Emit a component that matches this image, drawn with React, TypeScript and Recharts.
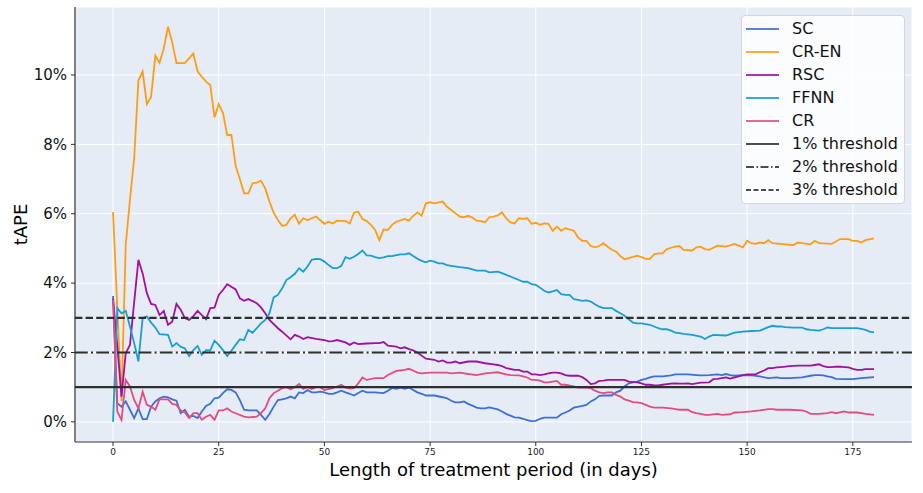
import React from 'react';
import { LineChart, Line, XAxis, YAxis, CartesianGrid, ReferenceLine, Label } from 'recharts';

// tAPE (%) per length of treatment period (days)
const scPoints: [number, number][] = [
  [0, 3.63], [1, 0.54], [2, 0.44], [3, 0.59], [4, 0.35], [5, 0.11], [6, 0.39], [7, 0.08], [8, 0.08], [9, 0.44],
  [10, 0.59], [11, 0.68], [12, 0.73], [13, 0.71], [14, 0.65], [15, 0.61], [16, 0.25], [17, 0.35], [18, 0.15], [19, 0.17],
  [20, 0.11], [21, 0.3], [22, 0.46], [23, 0.52], [24, 0.68], [25, 0.7], [26, 0.83], [27, 0.94], [28, 0.92], [29, 0.85],
  [30, 0.63], [31, 0.35], [32, 0.33], [34, 0.33], [35, 0.2], [36, 0.06], [37, 0.23], [38, 0.44], [39, 0.63], [40, 0.65],
  [41, 0.68], [42, 0.73], [43, 0.68], [44, 0.85], [45, 0.83], [46, 0.92], [47, 0.85], [48, 0.85], [49, 0.87], [50, 0.85],
  [51, 0.81], [52, 0.81], [53, 0.85], [54, 0.9], [55, 0.85], [56, 0.81], [57, 0.76], [58, 0.83], [59, 0.9], [60, 0.85],
  [62, 0.85], [64, 0.83], [65, 0.9], [66, 0.98], [67, 0.95], [68, 0.99], [69, 0.95], [70, 0.99], [71, 0.92], [72, 0.85],
  [73, 0.81], [74, 0.76], [76, 0.76], [78, 0.71], [79, 0.68], [80, 0.61], [81, 0.56], [82, 0.56], [83, 0.59], [84, 0.52],
  [85, 0.47], [86, 0.41], [87, 0.39], [88, 0.39], [89, 0.42], [90, 0.39], [91, 0.36], [92, 0.3], [93, 0.23], [94, 0.18],
  [95, 0.13], [96, 0.12], [97, 0.09], [98, 0.05], [99, 0.02], [100, 0.03], [101, 0.09], [102, 0.12], [105, 0.12], [106, 0.22],
  [107, 0.27], [108, 0.33], [109, 0.41], [111, 0.46], [112, 0.49], [113, 0.59], [114, 0.65], [115, 0.75], [116, 0.76], [118, 0.76],
  [119, 0.85], [120, 0.9], [121, 1.02], [122, 1.11], [123, 1.14], [124, 1.16], [125, 1.21], [126, 1.24], [127, 1.28], [128, 1.31],
  [130, 1.31], [132, 1.34], [133, 1.37], [136, 1.37], [138, 1.35], [139, 1.34], [141, 1.35], [143, 1.37], [144, 1.35], [145, 1.38],
  [146, 1.35], [147, 1.33], [149, 1.35], [151, 1.34], [153, 1.31], [155, 1.26], [157, 1.28], [158, 1.26], [160, 1.26], [163, 1.28],
  [165, 1.33], [166, 1.35], [167, 1.35], [168, 1.34], [169, 1.31], [170, 1.29], [171, 1.24], [173, 1.23], [175, 1.23], [177, 1.26],
  [180, 1.29],
];

const crEnPoints: [number, number][] = [
  [0, 6.05], [1, 3.3], [2, 0.6], [3, 5.1], [4, 6.4], [5, 7.6], [6, 9.84], [7, 10.1], [8, 9.16], [9, 9.37],
  [10, 10.56], [11, 10.35], [12, 10.77], [13, 11.39], [14, 10.94], [15, 10.34], [17, 10.34], [19, 10.62], [20, 10.1], [21, 9.95],
  [22, 9.81], [23, 9.71], [24, 8.78], [25, 9.16], [26, 8.91], [27, 8.27], [28, 8.27], [29, 7.38], [30, 7.0], [31, 6.59],
  [32, 6.59], [33, 6.88], [34, 6.9], [35, 6.95], [36, 6.73], [37, 6.35], [38, 6.03], [39, 5.82], [40, 5.65], [41, 5.68],
  [42, 5.87], [43, 5.97], [44, 5.71], [45, 5.87], [46, 5.82], [48, 5.92], [50, 5.71], [51, 5.77], [52, 5.72], [53, 5.8],
  [55, 5.79], [56, 5.72], [57, 6.03], [58, 6.06], [59, 5.85], [60, 5.79], [61, 5.68], [62, 5.53], [63, 5.24], [64, 5.55],
  [65, 5.53], [66, 5.68], [67, 5.77], [69, 5.85], [70, 5.8], [71, 5.94], [72, 6.04], [73, 5.94], [74, 6.3], [75, 6.33],
  [76, 6.3], [78, 6.35], [79, 6.2], [80, 6.11], [81, 6.01], [82, 5.92], [83, 5.9], [84, 5.94], [85, 5.89], [86, 5.8],
  [87, 5.79], [88, 5.75], [89, 5.9], [90, 5.92], [91, 5.95], [92, 6.04], [93, 5.87], [94, 5.75], [95, 5.72], [96, 5.87],
  [97, 5.85], [98, 5.87], [99, 5.71], [100, 5.74], [101, 5.68], [102, 5.72], [103, 5.71], [104, 5.51], [105, 5.63], [106, 5.51],
  [107, 5.58], [109, 5.51], [110, 5.32], [111, 5.22], [112, 5.22], [113, 5.07], [114, 5.03], [115, 5.07], [116, 5.15], [117, 5.05],
  [118, 4.96], [119, 4.91], [120, 4.78], [121, 4.69], [122, 4.72], [123, 4.76], [124, 4.79], [125, 4.75], [126, 4.7], [127, 4.7],
  [128, 4.83], [129, 4.86], [130, 4.86], [131, 4.98], [132, 5.02], [133, 5.05], [134, 5.07], [135, 4.96], [137, 4.94], [138, 5.03],
  [139, 5.05], [140, 4.98], [141, 4.96], [143, 5.08], [145, 5.05], [147, 5.13], [149, 5.03], [150, 5.22], [151, 5.15], [152, 5.13],
  [153, 5.17], [154, 5.15], [155, 5.24], [156, 5.15], [159, 5.12], [161, 5.1], [162, 5.17], [163, 5.15], [165, 5.12], [166, 5.22],
  [167, 5.15], [170, 5.13], [172, 5.27], [174, 5.27], [175, 5.22], [176, 5.22], [177, 5.17], [178, 5.24], [180, 5.29],
];

const rscPoints: [number, number][] = [
  [0, 3.55], [1, 2.2], [2, 0.73], [3, 1.98], [4, 2.22], [5, 3.45], [6, 4.67], [7, 4.28], [8, 3.71], [9, 3.4],
  [10, 3.37], [11, 3.08], [12, 3.2], [13, 2.8], [14, 2.89], [15, 3.4], [16, 3.23], [17, 2.99], [18, 2.94], [19, 3.05],
  [20, 3.2], [21, 3.08], [22, 2.96], [23, 3.28], [24, 3.29], [25, 3.66], [26, 3.8], [27, 3.97], [29, 3.82], [30, 3.56],
  [31, 3.49], [32, 3.54], [34, 3.42], [35, 3.3], [36, 3.13], [37, 2.94], [39, 2.7], [40, 2.6], [42, 2.38], [43, 2.51],
  [44, 2.46], [45, 2.39], [46, 2.44], [48, 2.39], [50, 2.36], [51, 2.32], [52, 2.33], [53, 2.36], [55, 2.29], [56, 2.22],
  [57, 2.29], [58, 2.24], [60, 2.26], [62, 2.27], [63, 2.27], [64, 2.3], [65, 2.2], [67, 2.17], [68, 2.12], [69, 2.15],
  [70, 2.1], [71, 2.06], [72, 2.0], [73, 1.91], [74, 1.82], [76, 1.79], [77, 1.74], [78, 1.77], [79, 1.71], [80, 1.71],
  [81, 1.74], [82, 1.69], [84, 1.74], [86, 1.74], [88, 1.69], [90, 1.66], [91, 1.64], [92, 1.61], [93, 1.55], [95, 1.5],
  [96, 1.5], [97, 1.45], [98, 1.45], [99, 1.37], [100, 1.37], [101, 1.35], [102, 1.37], [103, 1.4], [104, 1.42], [105, 1.42],
  [106, 1.4], [107, 1.35], [108, 1.33], [110, 1.33], [111, 1.29], [112, 1.21], [113, 1.09], [114, 1.11], [115, 1.18], [116, 1.19],
  [117, 1.21], [118, 1.21], [120, 1.21], [121, 1.21], [122, 1.16], [124, 1.14], [125, 1.11], [126, 1.07], [127, 1.07], [128, 1.05],
  [129, 1.05], [130, 1.07], [132, 1.1], [133, 1.11], [134, 1.1], [135, 1.1], [136, 1.11], [137, 1.09], [138, 1.11], [139, 1.13],
  [141, 1.14], [142, 1.23], [143, 1.24], [145, 1.28], [146, 1.25], [148, 1.31], [149, 1.35], [150, 1.37], [152, 1.37], [153, 1.43],
  [154, 1.48], [155, 1.55], [156, 1.55], [157, 1.57], [158, 1.58], [159, 1.59], [160, 1.61], [162, 1.62], [164, 1.62], [165, 1.62],
  [166, 1.64], [167, 1.66], [168, 1.61], [169, 1.58], [170, 1.58], [171, 1.59], [172, 1.59], [173, 1.58], [174, 1.57], [175, 1.53],
  [176, 1.5], [177, 1.5], [178, 1.52], [180, 1.52],
];

const ffnnPoints: [number, number][] = [
  [0, 0], [1, 3.28], [2, 3.13], [3, 3.2], [4, 2.75], [5, 2.27], [6, 1.74], [7, 2.99], [8, 3.04], [9, 2.86],
  [10, 2.72], [11, 2.53], [13, 2.51], [14, 2.17], [15, 2.27], [16, 2.17], [17, 2.12], [18, 1.9], [19, 2.07], [20, 2.19],
  [21, 1.93], [22, 2.07], [23, 2.06], [24, 2.34], [25, 2.22], [26, 2.07], [27, 1.9], [28, 2.05], [29, 2.22], [30, 2.38],
  [31, 2.36], [32, 2.65], [33, 2.57], [34, 2.7], [35, 2.84], [36, 2.94], [37, 3.13], [38, 3.59], [39, 3.66], [40, 3.85],
  [41, 4.09], [42, 4.17], [43, 4.27], [44, 4.43], [45, 4.33], [46, 4.48], [47, 4.67], [48, 4.7], [49, 4.69], [50, 4.62],
  [51, 4.52], [52, 4.43], [53, 4.43], [54, 4.5], [55, 4.75], [56, 4.7], [57, 4.76], [58, 4.84], [59, 4.94], [60, 4.8],
  [61, 4.79], [62, 4.75], [63, 4.72], [64, 4.74], [65, 4.78], [66, 4.78], [67, 4.81], [68, 4.83], [69, 4.83], [70, 4.86],
  [71, 4.78], [72, 4.7], [73, 4.64], [74, 4.6], [75, 4.65], [76, 4.62], [77, 4.57], [78, 4.57], [79, 4.52], [80, 4.5],
  [82, 4.46], [84, 4.43], [86, 4.36], [88, 4.36], [89, 4.31], [91, 4.33], [92, 4.29], [94, 4.19], [96, 4.09], [97, 4.04],
  [98, 4.04], [99, 3.97], [100, 3.95], [101, 3.87], [102, 3.78], [103, 3.73], [104, 3.76], [105, 3.8], [106, 3.68], [107, 3.66],
  [108, 3.66], [109, 3.54], [110, 3.52], [111, 3.49], [112, 3.5], [113, 3.47], [114, 3.39], [115, 3.32], [116, 3.28], [117, 3.28],
  [118, 3.28], [119, 3.2], [120, 3.13], [121, 3.06], [122, 2.96], [123, 2.86], [124, 2.84], [125, 2.84], [126, 2.82], [127, 2.8],
  [128, 2.75], [129, 2.7], [130, 2.67], [131, 2.67], [132, 2.63], [133, 2.57], [134, 2.56], [135, 2.54], [137, 2.51], [139, 2.46],
  [140, 2.39], [141, 2.46], [142, 2.51], [145, 2.49], [146, 2.53], [147, 2.57], [149, 2.6], [151, 2.62], [153, 2.63], [154, 2.68],
  [155, 2.73], [156, 2.77], [157, 2.75], [158, 2.75], [159, 2.73], [161, 2.72], [163, 2.72], [164, 2.67], [165, 2.65], [167, 2.63],
  [168, 2.67], [169, 2.72], [170, 2.7], [172, 2.7], [174, 2.7], [176, 2.7], [177, 2.68], [178, 2.65], [179, 2.6], [180, 2.58],
];

const crPoints: [number, number][] = [
  [0, 3.52], [1, 0.3], [2, 0.06], [3, 1.21], [4, 1.02], [5, 0.63], [6, 0.39], [7, 0.87], [8, 0.49], [9, 0.44],
  [10, 0.35], [11, 0.65], [12, 0.65], [13, 0.65], [14, 0.52], [15, 0.49], [16, 0.33], [17, 0.27], [18, 0.11], [19, 0.25],
  [20, 0.25], [21, 0.06], [22, 0.15], [23, 0.2], [24, 0.06], [25, 0.33], [26, 0.33], [27, 0.39], [28, 0.3], [29, 0.25],
  [31, 0.15], [32, 0.13], [34, 0.15], [35, 0.25], [36, 0.39], [37, 0.68], [38, 0.83], [39, 0.9], [40, 0.97], [41, 1.0],
  [42, 0.94], [43, 1.0], [44, 1.09], [45, 0.95], [46, 1.0], [47, 0.95], [48, 1.0], [49, 1.0], [50, 0.92], [52, 0.97],
  [54, 1.07], [55, 0.99], [56, 0.96], [57, 0.97], [58, 1.11], [59, 1.28], [60, 1.21], [62, 1.26], [64, 1.26], [65, 1.35],
  [67, 1.47], [69, 1.5], [70, 1.53], [71, 1.48], [72, 1.42], [73, 1.4], [75, 1.42], [77, 1.42], [79, 1.42], [80, 1.4],
  [82, 1.42], [84, 1.38], [86, 1.35], [88, 1.4], [90, 1.42], [91, 1.43], [92, 1.4], [93, 1.37], [94, 1.35], [96, 1.34],
  [97, 1.31], [98, 1.28], [99, 1.21], [100, 1.21], [101, 1.19], [102, 1.14], [103, 1.14], [104, 1.16], [105, 1.18], [106, 1.07],
  [107, 1.07], [109, 1.02], [110, 0.99], [112, 0.99], [113, 0.97], [114, 0.9], [115, 0.85], [116, 0.83], [117, 0.85], [118, 0.85],
  [119, 0.78], [120, 0.73], [121, 0.65], [122, 0.61], [123, 0.57], [124, 0.56], [125, 0.54], [126, 0.49], [127, 0.44], [128, 0.41],
  [130, 0.41], [132, 0.39], [133, 0.37], [134, 0.35], [136, 0.35], [137, 0.28], [138, 0.25], [139, 0.23], [140, 0.2], [141, 0.2],
  [143, 0.23], [144, 0.2], [146, 0.22], [147, 0.27], [149, 0.28], [151, 0.3], [152, 0.32], [153, 0.33], [155, 0.37], [156, 0.37],
  [157, 0.35], [158, 0.35], [160, 0.35], [163, 0.33], [164, 0.3], [165, 0.23], [167, 0.23], [169, 0.25], [170, 0.28], [171, 0.25],
  [173, 0.3], [174, 0.27], [176, 0.27], [177, 0.25], [178, 0.23], [180, 0.2],
];

const xTicks = [0, 25, 50, 75, 100, 125, 150, 175];
const yTicks = [0, 2, 4, 6, 8, 10];
const thresholdLevels = [1, 2, 3];
const thresholdNames = ['1% threshold', '2% threshold', '3% threshold'];
const thresholdDash = [undefined, '12.8 3.2 2 3.2', '7.4 3.2'];

const FONT = '"DejaVu Sans", sans-serif';
const INK = '#2e2e2e';

const toRows = (pts: [number, number][]) => pts.map(([day, value]) => ({ day, value }));

const series = [
  { name: 'SC', color: '#3d6fd6', rows: toRows(scPoints) },
  { name: 'CR-EN', color: '#ff9d12', rows: toRows(crEnPoints) },
  { name: 'RSC', color: '#a0119f', rows: toRows(rscPoints) },
  { name: 'FFNN', color: '#189fcf', rows: toRows(ffnnPoints) },
  { name: 'CR', color: '#e44c80', rows: toRows(crPoints) },
];

const YTitle = (props: any) => {
  const vb = props.viewBox || { x: 0, y: 7, width: 75, height: 435 };
  const cx = vb.x + 27;
  const cy = vb.y + vb.height / 2;
  return (
    <text x={cx} y={cy} transform={`rotate(-90, ${cx}, ${cy})`} textAnchor="middle"
      fontSize={18} fontFamily={FONT} fill="#000">tAPE</text>
  );
};

const XTitle = (props: any) => {
  const vb = props.viewBox || { x: 75, y: 442, width: 837, height: 51 };
  return (
    <text x={vb.x + vb.width / 2} y={vb.y + vb.height - 17} textAnchor="middle"
      fontSize={18} fontFamily={FONT} fill="#000">Length of treatment period (in days)</text>
  );
};

const LegendBox = () => {
  const rows = [
    ...series.map((s) => ({ name: s.name, color: s.color, dash: undefined as string | undefined })),
    ...thresholdNames.map((n, i) => ({ name: n, color: INK, dash: i === 1 ? '8 2.5 1.5 2.5' : i === 2 ? '5 2.5' : undefined })),
  ];
  return (
    <div style={{
      position: 'absolute', left: 741, top: 15, width: 164, height: 189, boxSizing: 'border-box',
      background: 'rgba(255,255,255,0.82)', border: '1px solid #d4d6da', borderRadius: 4,
      paddingTop: 1, fontFamily: FONT, fontSize: 16, color: '#111',
    }}>
      {rows.map((r) => (
        <div key={r.name} style={{ height: 23, display: 'flex', alignItems: 'center' }}>
          <svg width={45} height={10} style={{ marginLeft: 4, flex: 'none' }}>
            <line x1={0} x2={33} y1={5} y2={5} stroke={r.color} strokeWidth={2}
              strokeDasharray={r.dash} opacity={0.85} />
          </svg>
          <span style={{ marginLeft: 1, whiteSpace: 'nowrap' }}>{r.name}</span>
        </div>
      ))}
    </div>
  );
};

export default function App() {
  return (
    <div style={{ position: 'absolute', left: 0, top: 0, width: 923, height: 493, background: '#fff', fontFamily: FONT }}>
      <LineChart width={923} height={493} margin={{ top: 7, right: 11, bottom: 0, left: 0 }}>
        <CartesianGrid fill="#e5ecf6" stroke="#ffffff" strokeWidth={1} />
        <XAxis dataKey="day" type="number" domain={[-9, 189]} ticks={xTicks} allowDataOverflow
          height={51} tickSize={4} tickMargin={3} interval={0}
          tick={{ fontSize: 9, fill: '#222', fontFamily: FONT }}
          axisLine={{ stroke: INK, strokeWidth: 1.2 }} tickLine={{ stroke: INK }}>
          <Label content={<XTitle />} />
        </XAxis>
        <YAxis type="number" domain={[-0.58, 11.96]} ticks={yTicks} allowDataOverflow width={75}
          tickSize={4} tickMargin={4} interval={0} tickFormatter={(v: number) => `${v}%`}
          tick={{ fontSize: 15, fill: '#111', fontFamily: FONT }}
          axisLine={{ stroke: INK, strokeWidth: 1.2 }} tickLine={{ stroke: INK }}>
          <Label content={<YTitle />} />
        </YAxis>
        {series.map((s) => (
          <Line key={s.name} data={s.rows} dataKey="value" name={s.name} type="linear"
            stroke={s.color} strokeWidth={1.8} dot={false} activeDot={false}
            isAnimationActive={false} />
        ))}
        {thresholdLevels.map((lvl, i) => (
          <ReferenceLine key={lvl} y={lvl} stroke={INK} strokeWidth={2.2}
            strokeDasharray={thresholdDash[i]} />
        ))}
      </LineChart>
      <LegendBox />
    </div>
  );
}
